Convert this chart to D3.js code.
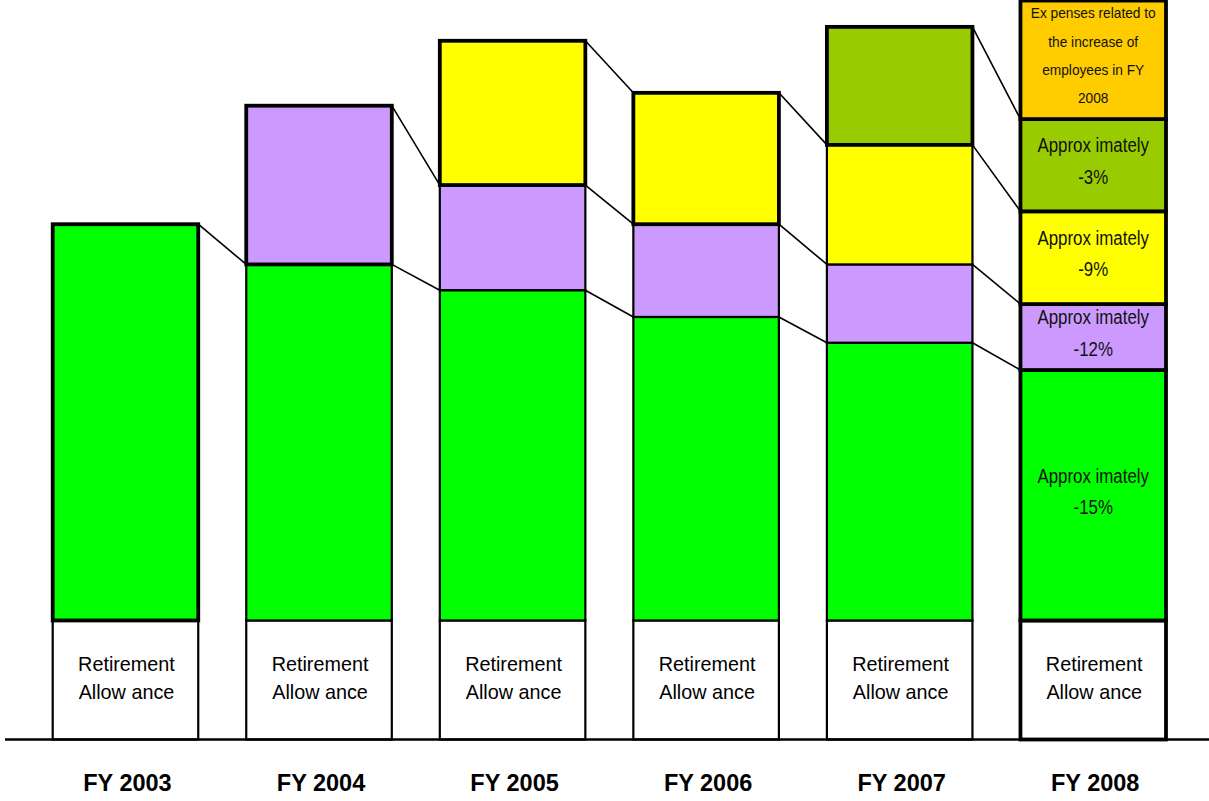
<!DOCTYPE html>
<html>
<head>
<meta charset="utf-8">
<script src="https://cdn.jsdelivr.net/npm/d3@7"></script>
<style>
  html, body { margin: 0; padding: 0; background: #fff; }
  svg { display: block; }
</style>
</head>
<body>
<svg id="chart" width="1209" height="801"></svg>
<script>
// ---------- data ----------
const years = ["FY 2003", "FY 2004", "FY 2005", "FY 2006", "FY 2007", "FY 2008"];
const seriesKeys = ["retirement", "green", "purple", "yellow", "olive", "orange"];
const retirement = [23.1, 23.1, 23.1, 23.1, 23.1, 23.1];
const green  = [76.9, 69.1, 64.1, 58.9, 53.9, 48.6];
const purple = [0, 30.8, 20.4, 18.0, 15.2, 12.8];
const yellow = [0, 0, 28.0, 25.5, 23.2, 18.0];
const olive  = [0, 0, 0, 0, 22.9, 17.9];
const orange = [0, 0, 0, 0, 0, 23.0];
const retirementLabel = ["Retirement", "Allow ance"];
const labels2008 = {
  green:  ["Approx imately", "-15%"],
  purple: ["Approx imately", "-12%"],
  yellow: ["Approx imately", "-9%"],
  olive:  ["Approx imately", "-3%"],
  orange: ["Ex penses related to", "the increase of", "employees in FY", "2008"]
};

// ---------- styles ----------
const colors = {
  retirement: "#ffffff", green: "#00ff00", purple: "#cc99ff",
  yellow: "#ffff00", olive: "#99cc00", orange: "#ffcc00"
};

const valuesByKey = { retirement, green, purple, yellow, olive, orange };
const table = years.map((y, i) => {
  const row = { year: y };
  seriesKeys.forEach(k => row[k] = valuesByKey[k][i]);
  return row;
});

const svg = d3.select("#chart");
const x = d3.scaleBand().domain(years).range([28.7, 1190]).paddingInner(0.248).paddingOuter(0.124);
const y = d3.scaleLinear().domain([0, 144]).range([739.5, -2.5]);

const stack = d3.stack().keys(seriesKeys);
const series = stack(table);

// segments
const segs = [];
series.forEach(s => {
  s.forEach((d, i) => {
    if (d[1] - d[0] > 0) segs.push({ key: s.key, i, y0: d[0], y1: d[1], year: years[i] });
  });
});
const topKey = {};
segs.forEach(s => { topKey[s.i] = s.key; });

const gBars = svg.append("g");
gBars.selectAll("rect").data(segs).join("rect")
  .attr("x", d => x(d.year))
  .attr("width", x.bandwidth())
  .attr("y", d => y(d.y1))
  .attr("height", d => y(d.y0) - y(d.y1))
  .attr("fill", d => colors[d.key])
  .attr("stroke", "#000")
  .attr("stroke-width", d => (d.i === 5 || topKey[d.i] === d.key) ? 3.8 : 2.2);

gBars.selectAll("rect").filter(d => d.i === 5 || topKey[d.i] === d.key).raise();

// connector lines
const gLines = svg.append("g");
const conn = [];
series.forEach(s => {
  if (s.key === "retirement") return;
  for (let i = 0; i < years.length - 1; i++) {
    const a = s[i], b = s[i + 1];
    if (a[1] - a[0] > 0 && b[1] - b[0] > 0) {
      conn.push({ x1: x(years[i]) + x.bandwidth(), y1: y(a[1]), x2: x(years[i + 1]), y2: y(b[1]) });
    }
  }
});
gLines.selectAll("line").data(conn).join("line")
  .attr("x1", d => d.x1).attr("y1", d => d.y1)
  .attr("x2", d => d.x2).attr("y2", d => d.y2)
  .attr("stroke", "#000").attr("stroke-width", 1.6);

// axis line
svg.append("line")
  .attr("x1", 5).attr("x2", 1209)
  .attr("y1", y(0)).attr("y2", y(0))
  .attr("stroke", "#000").attr("stroke-width", 2.6);

// retirement labels
const gText = svg.append("g");
series[0].forEach((d, i) => {
  const cx = x(years[i]) + x.bandwidth() / 2;
  const cy = (y(d[0]) + y(d[1])) / 2;
  retirementLabel.forEach((t, j) => {
    gText.append("text")
      .attr("x", cx + 1)
      .attr("y", cy + (j - (retirementLabel.length - 1) / 2) * 28 + 4.75)
      .attr("text-anchor", "middle")
      .attr("font-family", "'Liberation Sans', Arial, sans-serif")
      .attr("font-size", 19.8)
      .attr("fill", "#000")
      .text(t);
  });
});

// 2008 labels (condensed, like Arial Narrow)
const narrow = "'Liberation Sans Narrow', 'Arial Narrow', 'Liberation Sans', sans-serif";
series.forEach(s => {
  const lines = labels2008[s.key];
  if (!lines) return;
  const d = s[5];
  const cx = x(years[5]) + x.bandwidth() / 2;
  const cy = (y(d[0]) + y(d[1])) / 2;
  const small = s.key === "orange";
  const lh = small ? 28.3 : 31.5;
  const adj = small ? 1 : 3;
  const squeeze = small ? 0.945 : 0.865;
  lines.forEach((t, j) => {
    const txt = gText.append("text")
      .attr("x", cx)
      .attr("y", cy + (j - (lines.length - 1) / 2) * lh + adj)
      .attr("text-anchor", "middle")
      .attr("font-family", narrow)
      .attr("font-size", small ? 14.5 : 19.5)
      .attr("fill", "#111")
      .text(t);
    const len = txt.node().getComputedTextLength();
    txt.attr("textLength", len * squeeze).attr("lengthAdjust", "spacingAndGlyphs");
  });
});

// x labels
svg.append("g").selectAll("text").data(years).join("text")
  .attr("x", d => x(d) + x.bandwidth() / 2 + 2)
  .attr("y", 791)
  .attr("text-anchor", "middle")
  .attr("font-family", "'Liberation Sans', Arial, sans-serif")
  .attr("font-weight", "bold")
  .attr("font-size", 23.5)
  .attr("fill", "#000")
  .text(d => d);
</script>
</body>
</html>
